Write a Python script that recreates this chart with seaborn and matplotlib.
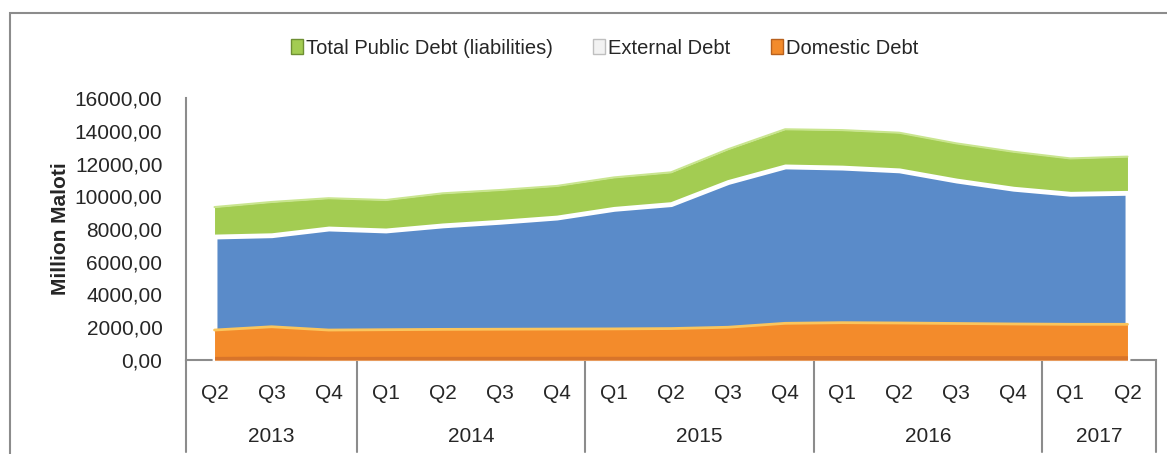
import pandas as pd
import matplotlib.pyplot as plt
import matplotlib.transforms as mtransforms
from matplotlib.patches import Patch, Rectangle
import seaborn as sns

# Data (million Maloti)
quarters = ["Q2", "Q3", "Q4", "Q1", "Q2", "Q3", "Q4", "Q1", "Q2", "Q3", "Q4",
            "Q1", "Q2", "Q3", "Q4", "Q1", "Q2"]
years = ["2013", "2014", "2015", "2016", "2017"]
year_counts = [3, 4, 4, 4, 2]
total_debt = [9340, 9650, 9880, 9770, 10180, 10380, 10630, 11150, 11460,
              12870, 14090, 14040, 13880, 13230, 12720, 12310, 12420]
external_debt = [7540, 7620, 8030, 7910, 8220, 8440, 8700, 9230, 9520,
                 10870, 11820, 11750, 11580, 10960, 10460, 10150, 10210]
domestic_debt = [1830, 2030, 1830, 1850, 1870, 1880, 1890, 1900, 1920,
                 2000, 2240, 2280, 2260, 2230, 2200, 2180, 2180]

df = pd.DataFrame({"idx": range(len(quarters)), "total": total_debt,
                   "external": external_debt, "domestic": domestic_debt})

sns.set_style("white")
plt.rcParams["font.family"] = ["Liberation Sans", "DejaVu Sans"]

green = "#A3CC52"
blue = "#5A8BC9"
orange = "#F38B2B"

fig = plt.figure(figsize=(11.67, 4.54), dpi=100)
ax = fig.add_axes([186 / 1167, 1 - 360 / 454, (1156 - 186) / 1167, (360 - 98) / 454])

# outer chart border
fig.patches.append(Rectangle((10 / 1167, -0.1), 1.2, 1 - 13 / 454 + 0.1,
                             transform=fig.transFigure, fill=False,
                             edgecolor="#8C8C8C", linewidth=1.5))

# Total public debt
ax.fill_between(df.idx, 0, df.total, color=green, linewidth=0, zorder=1)
sns.lineplot(data=df, x="idx", y="total", color="#C9E58F", linewidth=1.5, ax=ax, zorder=2)

# External debt with white edge
ax.fill_between(df.idx, 0, df.external, facecolor=blue, edgecolor="white",
                linewidth=3.5, zorder=3)

# Domestic debt
ax.fill_between(df.idx, 0, df.domestic, color=orange, linewidth=0, zorder=4)
sns.lineplot(data=df, x="idx", y="domestic", color="#FBC55C", linewidth=2, ax=ax, zorder=5)
ax.fill_between(df.idx, 0, [v * 0.12 for v in domestic_debt], color="#D8742A",
                linewidth=0, zorder=5)

ax.set_xlim(-0.5, len(quarters) - 0.5)
ax.set_ylim(0, 16000)
ax.set_yticks(range(0, 16001, 2000))
ax.set_yticklabels([f"{v:.2f}".replace(".", ",") for v in range(0, 16001, 2000)],
                   fontsize=15)
ax.set_xticks(range(len(quarters)))
ax.set_xticklabels(quarters, fontsize=15)
ax.tick_params(axis="both", length=0)
ax.tick_params(axis="x", pad=17)
ax.tick_params(axis="y", pad=17)
ax.set_xlabel("")
ax.set_ylabel("Million Maloti", fontsize=15, fontweight="bold", labelpad=3)

for side in ["top", "right"]:
    ax.spines[side].set_visible(False)
for side in ["left", "bottom"]:
    ax.spines[side].set_color("#8C8C8C")
    ax.spines[side].set_linewidth(1.5)

# two-level category axis: year labels and separators
trans = mtransforms.blended_transform_factory(ax.transData, ax.transAxes)
start = -0.5
bounds = [start]
for y, n in zip(years, year_counts):
    ax.text(start + n / 2, -(436 - 360) / 262, y, transform=trans,
            ha="center", va="center", fontsize=15)
    start += n
    bounds.append(start)
for b in bounds:
    ax.plot([b, b], [0, -(452 - 360) / 262], transform=trans, color="#8C8C8C",
            linewidth=1.5, clip_on=False)

handles = [Patch(facecolor=green, edgecolor="#6E8F33"),
           Patch(facecolor="#F2F2F2", edgecolor="#BFBFBF"),
           Patch(facecolor=orange, edgecolor="#B8611E")]
fig.legend(handles, ["Total Public Debt (liabilities)", "External Debt", "Domestic Debt"],
           loc="center", bbox_to_anchor=(0.518, 1 - 48 / 454), ncol=3, frameon=False,
           fontsize=14.5, handlelength=0.6, handleheight=0.7, handletextpad=0.15,
           columnspacing=2.0)

fig.savefig("out.png", dpi=100)
